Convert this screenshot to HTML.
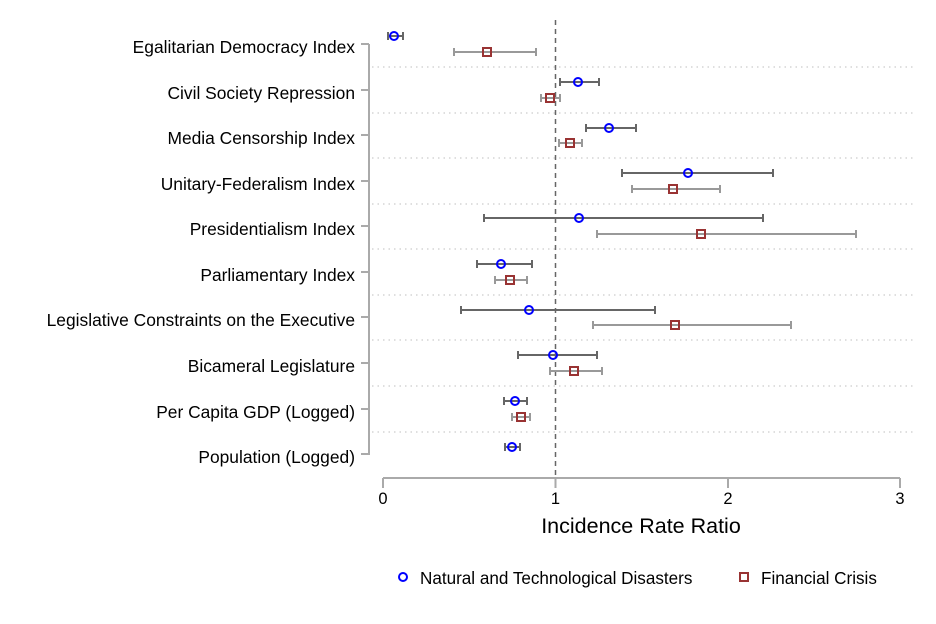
<!DOCTYPE html>
<html><head><meta charset="utf-8"><style>body{margin:0;background:#fff}svg{display:block}text{font-family:"Liberation Sans",sans-serif}</style></head><body>
<svg width="936" height="624" viewBox="0 0 936 624" xmlns="http://www.w3.org/2000/svg">
<g stroke="#ccc" stroke-width="1.2" stroke-dasharray="1.5,4">
<line x1="372" x2="915" y1="67" y2="67"/><line x1="372" x2="915" y1="113" y2="113"/><line x1="372" x2="915" y1="158" y2="158"/><line x1="372" x2="915" y1="204" y2="204"/><line x1="372" x2="915" y1="249" y2="249"/><line x1="372" x2="915" y1="295" y2="295"/><line x1="372" x2="915" y1="340" y2="340"/><line x1="372" x2="915" y1="386" y2="386"/><line x1="372" x2="915" y1="432" y2="432"/>
</g>
<line x1="555.5" x2="555.5" y1="20" y2="478" stroke="#666" stroke-width="1.5" stroke-dasharray="5,4"/>
<g stroke="#aaa" stroke-width="2" fill="none">
<path d="M369 44V455"/>
<path d="M361 44H369M361 90H369M361 135H369M361 181H369M361 226H369M361 272H369M361 317H369M361 363H369M361 409H369M361 454H369"/>
<path d="M383 478H900M383 478V488M555.5 478V488M728 478V488M900 478V488"/>
</g>
<g font-size="17.4" fill="#000" text-anchor="end">
<text x="355" y="53">Egalitarian Democracy Index</text>
<text x="355" y="99">Civil Society Repression</text>
<text x="355" y="144">Media Censorship Index</text>
<text x="355" y="190">Unitary-Federalism Index</text>
<text x="355" y="235">Presidentialism Index</text>
<text x="355" y="281">Parliamentary Index</text>
<text x="355" y="326">Legislative Constraints on the Executive</text>
<text x="355" y="372">Bicameral Legislature</text>
<text x="355" y="418">Per Capita GDP (Logged)</text>
<text x="355" y="463">Population (Logged)</text>
</g>
<g font-size="16.5" text-anchor="middle">
<text x="383" y="504">0</text><text x="555.5" y="504">1</text><text x="728" y="504">2</text><text x="900" y="504">3</text>
<text x="641" y="533" font-size="21.5">Incidence Rate Ratio</text>
</g>
<g stroke-width="2" fill="none">
<g stroke="#666">
<path d="M388 36H403M388 32V40M403 32V40"/>
<path d="M560 82H599M560 78V86M599 78V86"/>
<path d="M586 128H636M586 124V132M636 124V132"/>
<path d="M622 173H773M622 169V177M773 169V177"/>
<path d="M484 218H763M484 214V222M763 214V222"/>
<path d="M477 264H532M477 260V268M532 260V268"/>
<path d="M461 310H655M461 306V314M655 306V314"/>
<path d="M518 355H597M518 351V359M597 351V359"/>
<path d="M504 401H527M504 397V405M527 397V405"/>
<path d="M505 447H520M505 443V451M520 443V451"/>
</g>
<g stroke="#999">
<path d="M454 52H536M454 48V56M536 48V56"/>
<path d="M541 98H560M541 94V102M560 94V102"/>
<path d="M559 143H582M559 139V147M582 139V147"/>
<path d="M632 189H720M632 185V193M720 185V193"/>
<path d="M597 234H856M597 230V238M856 230V238"/>
<path d="M495 280H527M495 276V284M527 276V284"/>
<path d="M593 325H791M593 321V329M791 321V329"/>
<path d="M550 371H602M550 367V375M602 367V375"/>
<path d="M512 417H530M512 413V421M530 413V421"/>
</g>
<g stroke="#00f">
<circle cx="394" cy="36" r="4"/><circle cx="578" cy="82" r="4"/><circle cx="609" cy="128" r="4"/><circle cx="688" cy="173" r="4"/><circle cx="579" cy="218" r="4"/><circle cx="501" cy="264" r="4"/><circle cx="529" cy="310" r="4"/><circle cx="553" cy="355" r="4"/><circle cx="515" cy="401" r="4"/><circle cx="512" cy="447" r="4"/>
<circle cx="403" cy="577" r="4"/>
</g>
<g stroke="#993333">
<rect x="483" y="48" width="8" height="8"/><rect x="546" y="94" width="8" height="8"/><rect x="566" y="139" width="8" height="8"/><rect x="669" y="185" width="8" height="8"/><rect x="697" y="230" width="8" height="8"/><rect x="506" y="276" width="8" height="8"/><rect x="671" y="321" width="8" height="8"/><rect x="570" y="367" width="8" height="8"/><rect x="517" y="413" width="8" height="8"/>
<rect x="740" y="573" width="8" height="8"/>
</g>
</g>
<g font-size="17.1">
<text x="420" y="584">Natural and Technological Disasters</text>
<text x="761" y="584">Financial Crisis</text>
</g>
</svg>
</body></html>
